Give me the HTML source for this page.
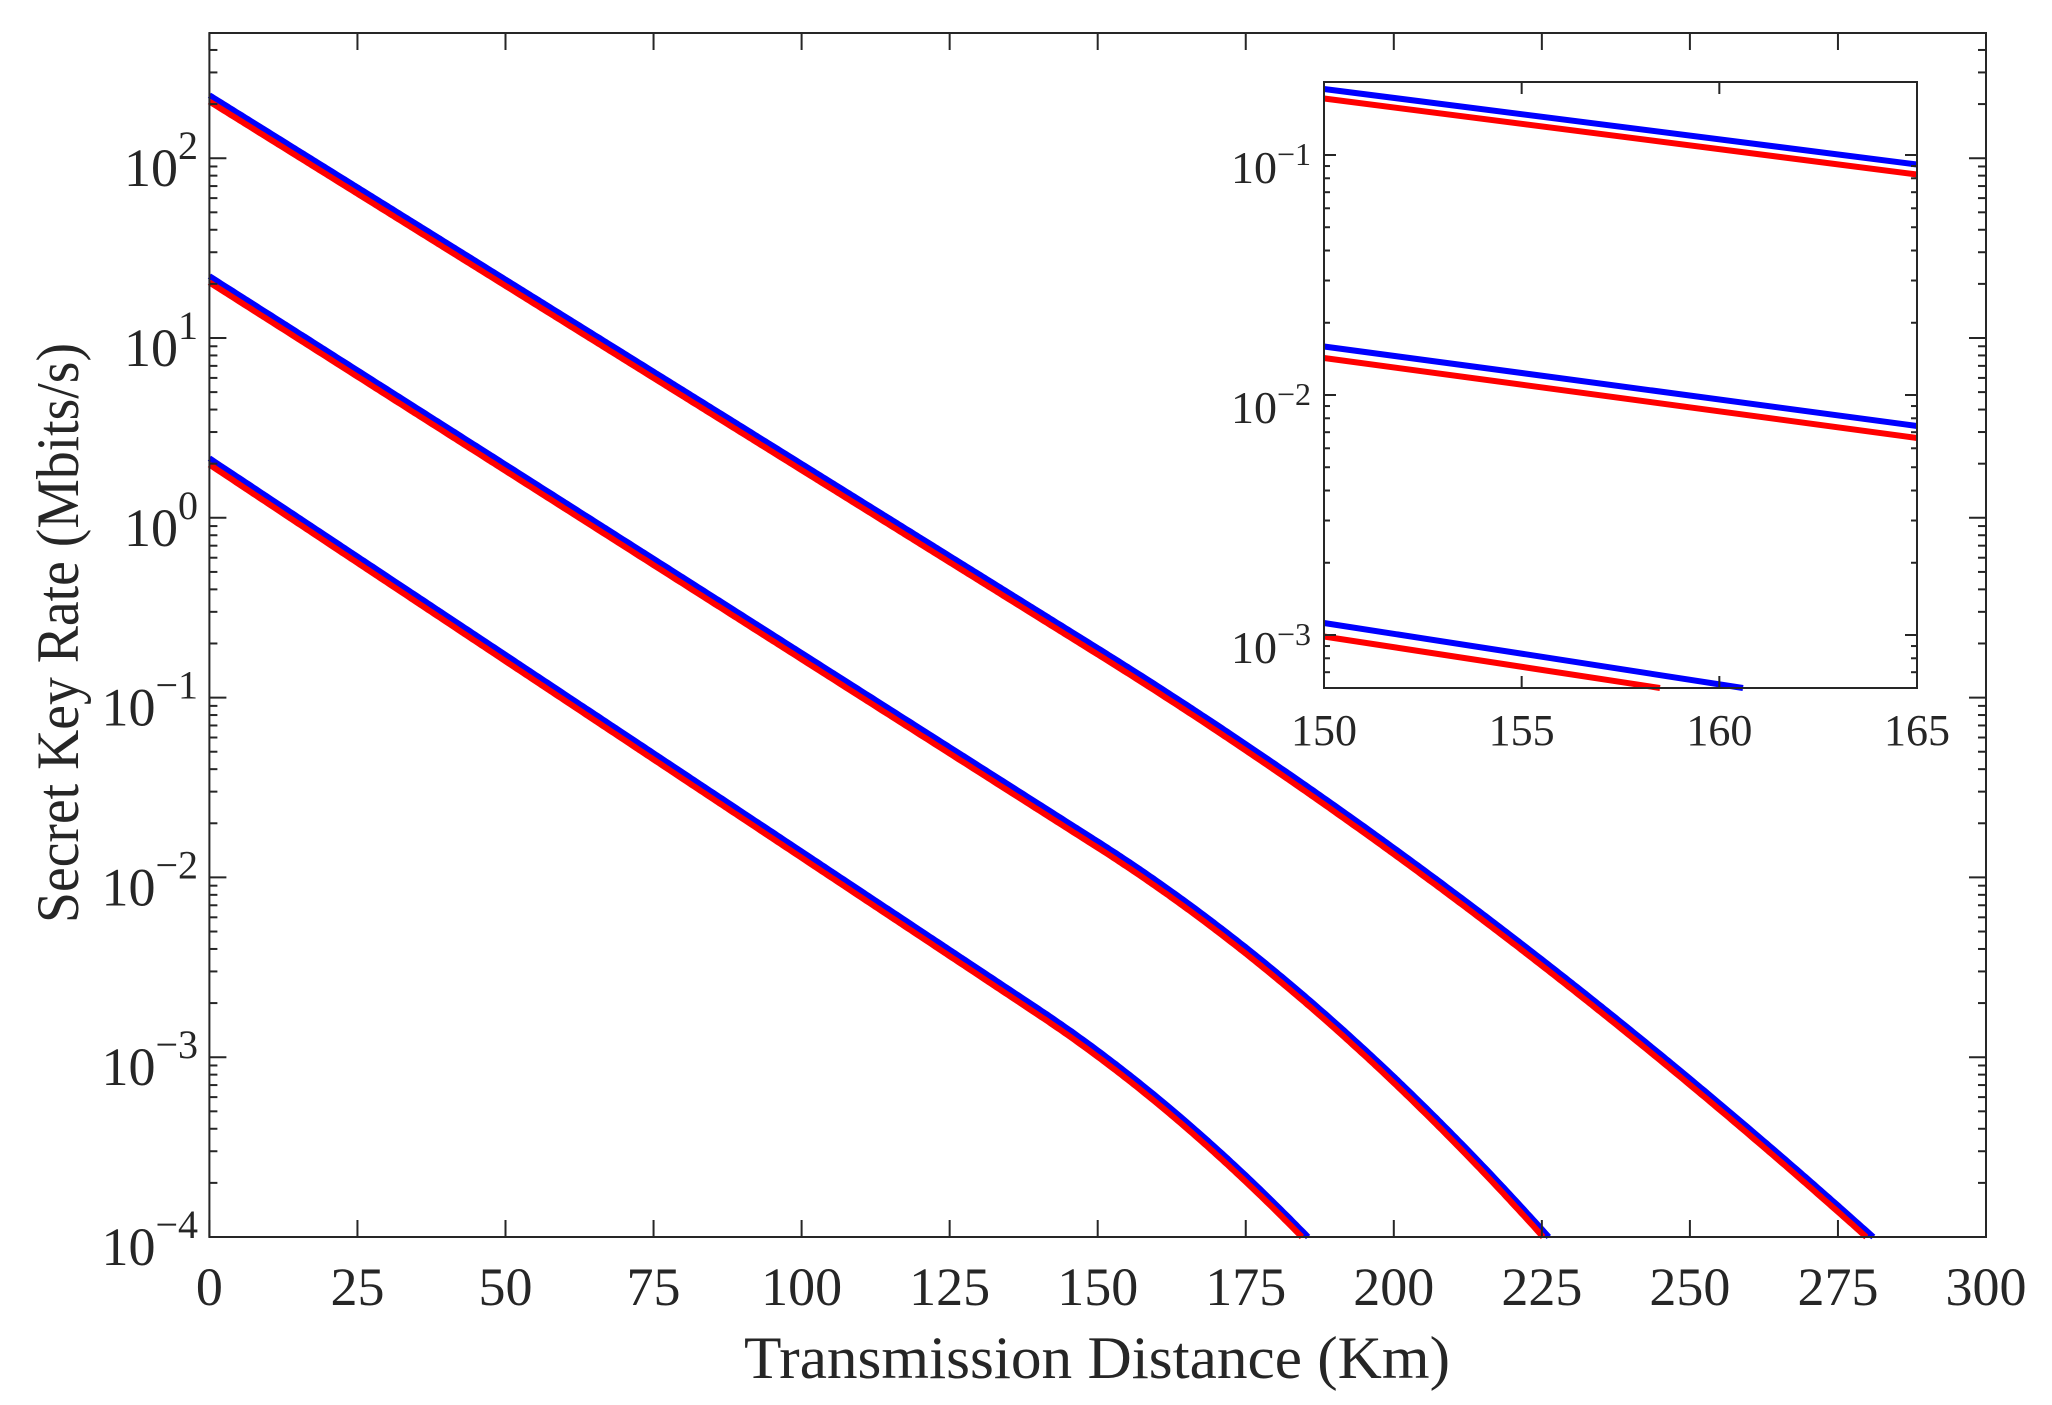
<!DOCTYPE html>
<html><head><meta charset="utf-8"><style>
html,body{margin:0;padding:0;background:#fff;}
svg{display:block;font-family:"Liberation Serif",serif;}
</style></head><body>
<svg id="s" width="2052" height="1405" viewBox="0 0 2052 1405" xmlns="http://www.w3.org/2000/svg">
<rect width="2052" height="1405" fill="#fff"/>
<g id="curves" fill="none" stroke-linejoin="round" stroke-width="6"></g>
<g id="ax" stroke="#262626" stroke-width="2" fill="none"></g>
<g id="tx" fill="#262626"></g>
<text x="1097" y="1378" font-size="60" text-anchor="middle" textLength="706" lengthAdjust="spacingAndGlyphs" fill="#262626">Transmission Distance (Km)</text>
<text transform="translate(78,633) rotate(-90)" font-size="60" text-anchor="middle" textLength="580" lengthAdjust="spacingAndGlyphs" fill="#262626">Secret Key Rate (Mbits/s)</text>
<rect x="1324" y="82" width="593" height="606" fill="#fff"/>
<g fill="none" stroke-width="6">
<line stroke="#0000ff" x1="1324" y1="89" x2="1917" y2="164.5"/>
<line stroke="#ff0000" x1="1324" y1="98.5" x2="1917" y2="174.5"/>
<line stroke="#0000ff" x1="1324" y1="346.5" x2="1917" y2="426"/>
<line stroke="#ff0000" x1="1324" y1="358" x2="1917" y2="438"/>
<line stroke="#0000ff" x1="1324" y1="623" x2="1743" y2="688"/>
<line stroke="#ff0000" x1="1324" y1="636.5" x2="1660" y2="688"/>
</g>
<g id="iax" stroke="#262626" stroke-width="2" fill="none"></g>
<g id="itx" fill="#262626"></g>
</svg>
<script>
var NS="http://www.w3.org/2000/svg";
function el(p,t,a,txt){var e=document.createElementNS(NS,t);for(var k in a)e.setAttribute(k,a[k]);if(txt!=null)e.textContent=txt;document.getElementById(p).appendChild(e);return e;}
function ln(p,x1,y1,x2,y2){el(p,"line",{x1:x1,y1:y1,x2:x2,y2:y2});}
var L=209.4,R=1986,T=33,B=1237,dec=179.8;
function X(d){return L+d*(R-L)/300;}
function Y(v){return B-(v+4)*dec;}
var models=[{a:2.35,s:0.0205,d0:150,q:3.44e-5},{a:1.344,s:0.02096,d0:150,q:1.04e-4},{a:0.331,s:0.02187,d0:140,q:1.32e-4}];
function val(m,d,off){var e=d>m.d0?m.q*(d-m.d0)*(d-m.d0):0;return m.a-m.s*d-e-off;}
function path(m,off){var pts=[],prev=null;for(var d=0;d<=300;d+=0.5){var v=val(m,d,off);
 if(v<-4){var t=(prev[1]+4)/(prev[1]-v);var dd=prev[0]+t*0.5;pts.push(X(dd).toFixed(1)+","+B);break;}
 pts.push(X(d).toFixed(1)+","+Y(v).toFixed(1));prev=[d,v];}
 return "M"+pts.join(" L");}
models.forEach(function(m){
 el("curves","path",{d:path(m,0),stroke:"#0000ff"});
 el("curves","path",{d:path(m,0.035),stroke:"#ff0000"});
});
el("ax","rect",{x:L,y:T,width:R-L,height:B-T});
for(var d=0;d<=300;d+=25){var x=X(d);ln("ax",x,B,x,B-17);ln("ax",x,T,x,T+17);
 el("tx","text",{x:x,y:1305,"font-size":54,"text-anchor":"middle"},String(d));}
var lg=[0.301,0.477,0.602,0.699,0.778,0.845,0.903,0.954];
for(var k=-4;k<=2;k++){var y=B-(k+4)*dec;ln("ax",L,y,L+17,y);ln("ax",R,y,R-17,y);
 for(var i=0;i<8;i++){var yy=y-lg[i]*dec;if(yy>T+1){ln("ax",L,yy,L+8,yy);ln("ax",R,yy,R-8,yy);}}
 var t=el("tx","text",{x:198,y:y+28,"font-size":54,"text-anchor":"end"});
 var a=document.createElementNS(NS,"tspan");a.textContent="10";t.appendChild(a);
 var b=document.createElementNS(NS,"tspan");b.setAttribute("font-size",40);b.setAttribute("dy",-27);b.textContent=(k<0?"\u2212":"")+Math.abs(k);t.appendChild(b);}
var iL=1324,iR=1917,iT=82,iB=688,idec=240,y1=155;
el("iax","rect",{x:iL,y:iT,width:iR-iL,height:iB-iT});
for(var d=150;d<=165;d+=5){var x=iL+(d-150)*(iR-iL)/15;ln("iax",x,iB,x,iB-12);ln("iax",x,iT,x,iT+12);
 el("itx","text",{x:x,y:745,"font-size":44,"text-anchor":"middle"},String(d));}
for(var k=-1;k>=-4;k--){var y=y1+(-1-k)*idec;
 if(y<=iB){ln("iax",iL,y,iL+12,y);ln("iax",iR,y,iR-12,y);
 var t=el("itx","text",{x:1311,y:y+28,"font-size":46,"text-anchor":"end"});
 var a=document.createElementNS(NS,"tspan");a.textContent="10";t.appendChild(a);
 var b=document.createElementNS(NS,"tspan");b.setAttribute("font-size",32);b.setAttribute("dy",-18);b.textContent="\u2212"+Math.abs(k);t.appendChild(b);}
 for(var i=0;i<8;i++){var yy=y-lg[i]*idec;if(yy>iT+1&&yy<iB-1){ln("iax",iL,yy,iL+6,yy);ln("iax",iR,yy,iR-6,yy);}}}
</script>
</body></html>
